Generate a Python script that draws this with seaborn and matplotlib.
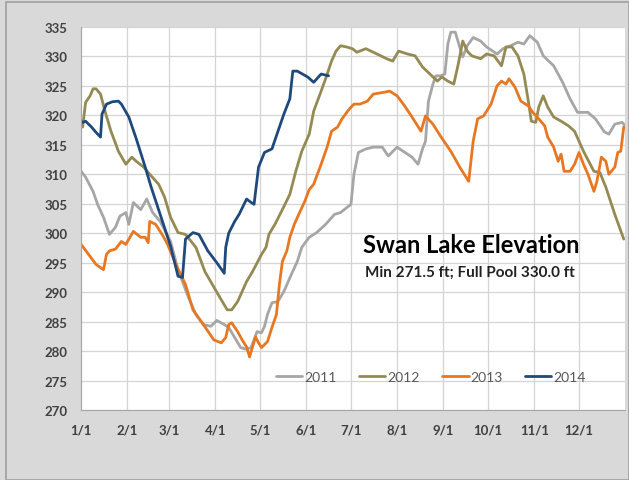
import seaborn as sns
import pandas as pd
import matplotlib.pyplot as plt
from matplotlib.patches import Rectangle

# Data: day of year and elevation (ft)
days_2011 = [0, 3, 8, 11, 15, 19, 23, 26, 30, 32, 35, 40, 44, 48, 53, 60, 65, 72, 77, 82, 87, 91, 96, 99,
             103, 107, 111, 114, 116, 118, 121, 123, 125, 128, 132, 136, 141, 145, 148, 153, 158, 164, 170,
             174, 181, 183, 186, 191, 196, 202, 206, 212, 216, 222, 226, 229, 231, 233, 236, 238, 241, 244,
             246, 248, 251, 253, 256, 259, 263, 268, 272, 279, 283, 288, 293, 297, 301, 306, 310, 317, 323,
             328, 333, 340, 345, 351, 354, 358, 363, 365]
elev_2011 = [310.5, 309.5, 307.1, 304.9, 302.7, 299.8, 301, 302.9, 303.5, 301.5, 305.2, 304, 305.8, 303.5,
             302, 298.6, 293.8, 289.1, 286.2, 284.5, 284.2, 285.2, 284.5, 284, 282.3, 280.6, 280.3, 280.6,
             281.9, 283.3, 283.1, 284.2, 286.2, 288.2, 288.4, 290.1, 293, 295.2, 297.6, 299.3, 300.1, 301.5,
             303.2, 303.5, 304.9, 310, 313.7, 314.3, 314.6, 314.6, 313.1, 314.6, 313.9, 312.9, 311.7, 314.3,
             315.6, 322.4, 325.3, 326.7, 326.7, 327, 332.1, 334.1, 334.1, 332.4, 329.9, 331.8, 333.2, 332.6,
             331.6, 330.4, 331.3, 331.8, 332.4, 332.1, 333.5, 332.4, 330.1, 328.4, 325.6, 322.8, 320.5,
             320.5, 319.4, 317.2, 316.8, 318.5, 318.8, 318.2]

days_2012 = [1, 3, 6, 8, 10, 13, 16, 20, 25, 30, 34, 37, 42, 46, 52, 56, 60, 65, 70, 77, 83, 91, 94, 98,
             101, 105, 111, 115, 121, 124, 126, 130, 135, 140, 144, 148, 153, 156, 161, 164, 168, 171, 174,
             178, 182, 185, 191, 196, 205, 209, 213, 219, 224, 229, 234, 239, 242, 246, 250, 253, 256, 259,
             262, 268, 272, 277, 282, 285, 289, 293, 297, 300, 302, 305, 307, 310, 313, 317, 322, 327, 331,
             337, 344, 348, 352, 358, 364]
elev_2012 = [318, 322.2, 323.3, 324.5, 324.5, 323.6, 320.7, 317.3, 313.9, 311.7, 312.9, 312.2, 311.2, 310,
             308.3, 306.1, 302.7, 300.1, 299.8, 297.6, 293.5, 290, 288.7, 287, 287, 288.4, 291.8, 293.5,
             296.4, 297.6, 299.8, 301.5, 304, 306.6, 310.5, 313.9, 316.8, 320.7, 324.1, 326.2, 329.2, 330.9,
             331.8, 331.6, 331.3, 330.7, 331.3, 330.7, 329.6, 329.2, 330.9, 330.4, 330.1, 328.2, 327, 325.8,
             326.5, 325.8, 325.3, 328.7, 332.6, 330.9, 330.1, 329.6, 330.4, 330.1, 328.4, 331.6, 331.6,
             330.1, 327, 322.4, 319, 318.8, 321.4, 323.3, 321.4, 319.7, 319, 318.2, 317.3, 313.9, 310.5,
             310.3, 307.8, 303.2, 299]

days_2013 = [0, 5, 10, 15, 17, 19, 23, 27, 30, 35, 40, 43, 45, 46, 50, 55, 58, 63, 70, 75, 82, 89, 94, 97,
             99, 101, 105, 108, 111, 113, 115, 117, 119, 121, 125, 128, 131, 133, 135, 138, 140, 143, 146,
             150, 153, 156, 161, 165, 168, 172, 175, 180, 183, 187, 192, 196, 203, 207, 212, 217, 222, 228,
             231, 236, 241, 248, 254, 260, 263, 266, 270, 273, 275, 279, 282, 285, 287, 291, 295, 300, 303,
             307, 311, 313, 317, 320, 322, 324, 328, 331, 334, 337, 340, 344, 346, 349, 352, 354, 358, 360,
             362, 364]
elev_2013 = [298.1, 296.4, 294.7, 293.8, 296.4, 297, 297.3, 298.6, 298.1, 300.3, 299.3, 299.3, 298.4, 302,
             301.5, 299.5, 298.1, 295, 291.3, 287, 284.5, 281.9, 281.4, 282.3, 284.5, 284.8, 283.3, 281.9,
             280.7, 279, 280.7, 282.4, 281.4, 280.6, 281.6, 284, 286.2, 291.3, 295.2, 297, 299.3, 301.5,
             303.2, 305.4, 307.4, 308.3, 311.7, 314.6, 317.3, 318, 319.4, 321.1, 321.9, 321.9, 322.4, 323.6,
             323.9, 324.1, 323.3, 321.6, 319.7, 317.3, 319.9, 318.5, 316.5, 313.9, 311.2, 308.8, 315.6,
             319.4, 319.9, 321.1, 321.9, 325, 325.8, 325.3, 326.2, 324.8, 322.4, 321.6, 320.5, 319.4, 318.2,
             316.3, 314.6, 312.2, 313.4, 310.5, 310.5, 311.7, 313.7, 311.7, 310, 307.1, 308.8, 312.9, 312.2,
             310, 311.2, 313.7, 313.9, 318]

days_2014 = [0, 1, 3, 7, 10, 13, 14, 17, 21, 25, 27, 32, 37, 43, 47, 53, 60, 65, 68, 70, 75, 79, 85, 91,
             96, 97, 99, 103, 106, 111, 113, 116, 119, 123, 128, 133, 136, 140, 142, 145, 152, 156, 161, 166]
elev_2014 = [319, 318.8, 319, 318, 317.1, 316.3, 320.2, 321.9, 322.3, 322.4, 321.9, 319.7, 316, 311.2, 307.8,
             303.2, 297.8, 292.7, 292.5, 299, 300.1, 299.8, 297, 295, 293.2, 297.6, 300, 302, 303.2, 305.8,
             305.4, 304.9, 311.2, 313.7, 314.3, 318, 320.2, 322.8, 327.5, 327.5, 326.5, 325.6, 327, 326.7]

years = ['2011', '2012', '2013', '2014']
colors = ['#A6A6A6', '#948A54', '#E87722', '#1F497D']
month_days = [0, 31, 59, 90, 120, 151, 181, 212, 243, 273, 304, 334]
month_labels = ['1/1', '2/1', '3/1', '4/1', '5/1', '6/1', '7/1', '8/1', '9/1', '10/1', '11/1', '12/1']

frames = []
for yr, d, e in zip(years, [days_2011, days_2012, days_2013, days_2014],
                    [elev_2011, elev_2012, elev_2013, elev_2014]):
    frames.append(pd.DataFrame({'day': d, 'elev': e, 'year': yr}))
data = pd.concat(frames, ignore_index=True)

sns.set_style('white')
fig = plt.figure(figsize=(6.29, 4.81), dpi=100, facecolor='#D9D9D9')
fig.patches.append(Rectangle((0.009, 0.0), 0.991, 0.994, transform=fig.transFigure,
                             facecolor='none', edgecolor='#A0A0A0', linewidth=1.2))
ax = fig.add_axes([0.129, 0.1455, 0.865, 0.7965])
ax.set_facecolor('white')

sns.lineplot(data=data, x='day', y='elev', hue='year', palette=colors, estimator=None,
             sort=False, linewidth=2, ax=ax)

ax.set_xlim(0, 365)
ax.set_ylim(270, 335)
ax.set_xticks(month_days)
ax.set_xticklabels(month_labels)
ax.set_yticks(range(270, 336, 5))
ax.grid(True, color='#D4D4D4', linewidth=0.9)
ax.set_axisbelow(True)
for s in ['top', 'right']:
    ax.spines[s].set_visible(False)
for s in ['left', 'bottom']:
    ax.spines[s].set_color('#A6A6A6')
ax.tick_params(axis='both', direction='out', length=4, color='#A6A6A6', labelcolor='#404040', pad=6)
for lab in ax.get_xticklabels() + ax.get_yticklabels():
    lab.set_fontweight('bold')
    lab.set_fontsize(9.5)
    lab.set_family('Lato')
ax.set_xlabel('')
ax.set_ylabel('')

leg = ax.legend(loc='center', bbox_to_anchor=(0.643, 0.087), ncol=4, frameon=False,
                handlelength=1.9, handletextpad=0.15, columnspacing=1.6,
                prop={'family': 'Lato', 'size': 10})
for t in leg.get_texts():
    t.set_color('#595959')

ax.text(0.518, 0.433, 'Swan Lake Elevation', transform=ax.transAxes, fontsize=17,
        fontweight='bold', family='Lato', color='black', va='center')
ax.text(0.522, 0.362, 'Min 271.5 ft; Full Pool 330.0 ft', transform=ax.transAxes, fontsize=11,
        fontweight='bold', family='Lato', color='#222222', va='center')

plt.savefig('out.png', dpi=100, facecolor=fig.get_facecolor())
